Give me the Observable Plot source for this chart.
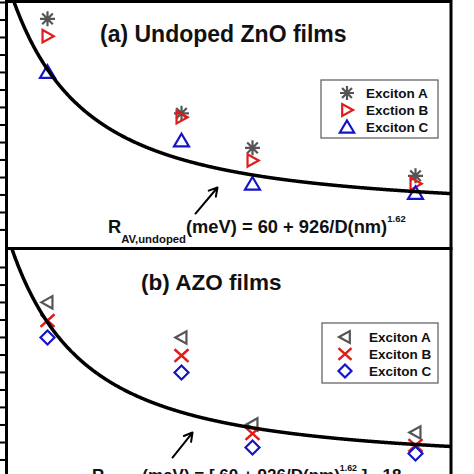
<!DOCTYPE html>
<html><head><meta charset="utf-8">
<script src="https://cdn.jsdelivr.net/npm/d3@7"></script>
<script src="https://cdn.jsdelivr.net/npm/@observablehq/plot@0.6"></script>
<style>
html,body{margin:0;padding:0;background:#fff;overflow:hidden}
#wrap{position:relative;width:474px;height:474px;overflow:hidden;font-family:"Liberation Sans",Arial,sans-serif}
#wrap svg{position:absolute;left:0}
</style></head>
<body><div id="wrap"></div>
<script>
// ---- data (grain size D in nm, energies in meV) ----
const grainD = [15.7, 29.1, 36.2, 52.5];
const undopedA = [74.5, 67.4, 64.8, 62.7];
const undopedB = [73.2, 67.1, 63.85, 62.1];
const undopedC = [70.5, 65.35, 62.1, 61.4];
const azoA = [54.2, 51.56, 45.02, 44.41];
const azoB = [52.83, 50.2, 44.33, 43.44];
const azoC = [51.56, 48.92, 43.29, 42.83];
const legendUndoped = ["Exciton A", "Exction B", "Exciton C"];
const legendAZO = ["Exciton A", "Exciton B", "Exciton C"];
const titleA = "(a) Undoped ZnO films";
const titleB = "(b) AZO films";
// fit model parameters printed on the chart
const fitUndoped = {base: 60, coef: 926, expo: 1.62, shift: 0};
const fitAZO = {base: 60, coef: 926, expo: 1.62, shift: -18};
const xDomain = [11.6, 56.05];
const yDomainA = [57.233, 75.805];
const yDomainB = [39.677, 58.248];
const yTicksA = [75.73, 74.41, 73.10, 71.78, 70.47, 69.15, 67.84, 66.52, 65.20, 63.89, 62.57, 61.26, 59.94, 58.63];
const yTicksB = [56.82, 55.50, 54.19, 52.87, 51.56, 50.24, 48.93, 47.61, 46.30, 44.98, 43.66, 42.35, 41.03];
const arrowUndoped = [{x1: 30.5, y1: 59.86, x2: 32.7, y2: 61.82}];
const arrowAZO = [{x1: 28.2, y1: 42.53, x2: 30.2, y2: 44.41}];

const GRAY = "#555555", RED = "#e31a1a", BLUE = "#1414c8";

// ---- custom symbols ----
const sym = fn => ({draw(c, size) { fn(c, Math.sqrt(size / Math.PI)); }});
const symAsterisk = sym((c, r) => { for (const a of [0, 45, 90, 135]) { const t = a * Math.PI / 180, dx = r * Math.cos(t), dy = r * Math.sin(t); c.moveTo(-dx, -dy); c.lineTo(dx, dy); } });
const symTriRight = sym((c, r) => { c.moveTo(r, 0); c.lineTo(-0.8 * r, -r); c.lineTo(-0.8 * r, r); c.closePath(); });
const symTriLeft = sym((c, r) => { c.moveTo(-r, 0); c.lineTo(0.8 * r, -r); c.lineTo(0.8 * r, r); c.closePath(); });
const symTriUp = sym((c, r) => { c.moveTo(0, -r); c.lineTo(1.1 * r, 0.85 * r); c.lineTo(-1.1 * r, 0.85 * r); c.closePath(); });
const symTimes = sym((c, r) => { c.moveTo(-r, -0.9 * r); c.lineTo(r, 0.9 * r); c.moveTo(-r, 0.9 * r); c.lineTo(r, -0.9 * r); });
const symDiamond = sym((c, r) => { c.moveTo(0, -r); c.lineTo(r, 0); c.lineTo(0, r); c.lineTo(-r, 0); c.closePath(); });

const rows = vals => grainD.map((d, i) => ({D: d, R: vals[i]}));
const curve = f => d3.range(xDomain[0], xDomain[1] + 0.05, 0.05).map(d => ({D: d, R: f.base + f.coef / Math.pow(d, f.expo) + f.shift}));

function panel({yDomain, ticks, series, fit, arrow, height, mt, mb}) {
  return Plot.plot({
    width: 474, height,
    marginLeft: 6, marginRight: 23.5, marginTop: mt, marginBottom: mb,
    x: {domain: xDomain, axis: null},
    y: {domain: yDomain, axis: null},
    style: {background: "transparent", overflow: "visible"},
    marks: [
      ...series.map(s => Plot.dot(rows(s.vals), {x: "D", y: "R", symbol: s.symbol, r: s.r, fill: "none", stroke: s.color, strokeWidth: s.sw})),
      Plot.line(curve(fit), {x: "D", y: "R", stroke: "black", strokeWidth: 3.5, clip: true}),
      Plot.arrow(arrow, {x1: "x1", y1: "y1", x2: "x2", y2: "y2", stroke: "black", strokeWidth: 2, headLength: 7}),
      Plot.axisY(ticks, {anchor: "left", tickSize: 6, tickFormat: () => "", strokeWidth: 2, label: null}),
      Plot.frame({stroke: "black", strokeWidth: 3})
    ]
  });
}

const wrap = document.getElementById("wrap");
const top1 = panel({
  yDomain: yDomainA, ticks: yTicksA, fit: fitUndoped, arrow: arrowUndoped, height: 249, mt: 1, mb: 1,
  series: [
    {vals: undopedA, symbol: symAsterisk, r: 7.5, color: GRAY, sw: 2.2},
    {vals: undopedB, symbol: symTriRight, r: 6.2, color: RED, sw: 2.2},
    {vals: undopedC, symbol: symTriUp, r: 6.8, color: BLUE, sw: 2.2}
  ]
});
top1.style.top = "0px";
wrap.appendChild(top1);
const bot = panel({
  yDomain: yDomainB, ticks: yTicksB, fit: fitAZO, arrow: arrowAZO, height: 251, mt: 2, mb: 2,
  series: [
    {vals: azoA, symbol: symTriLeft, r: 6.2, color: GRAY, sw: 2.2},
    {vals: azoB, symbol: symTimes, r: 7, color: RED, sw: 2.5},
    {vals: azoC, symbol: symDiamond, r: 7, color: BLUE, sw: 2.2}
  ]
});
bot.style.top = "246px";
wrap.appendChild(bot);

// ---- annotations overlay ----
const ov = d3.select(wrap).append("svg").attr("width", 474).attr("height", 474).style("top", "0px")
  .attr("font-family", '"Liberation Sans", Arial, sans-serif').attr("font-weight", "bold").attr("fill", "#111")
  .attr("xml:space", "preserve").style("white-space", "pre");

ov.append("text").attr("x", 100).attr("y", 42).attr("font-size", 23).text(titleA);
ov.append("text").attr("x", 141).attr("y", 290).attr("font-size", 22.5).text(titleB);

function formula(x, y, fs, sub, body, sup, tail) {
  const t = ov.append("text").attr("x", x).attr("y", y).attr("font-size", fs);
  t.append("tspan").text("R");
  t.append("tspan").attr("font-size", fs * 0.62).attr("dy", fs * 0.55).text(sub);
  t.append("tspan").attr("dy", -fs * 0.55).text(body);
  t.append("tspan").attr("font-size", fs * 0.52).attr("dy", -fs * 0.58).text(sup);
  if (tail) t.append("tspan").attr("dy", fs * 0.58).text(tail);
}
formula(108, 233, 18.3, "AV,undoped", "(meV) = 60  + 926/D(nm)", "1.62", null);
formula(92, 481, 17, "AV,AZO", "(meV) = [ 60 + 926/D(nm)", "1.62", " ] - 18");

function legend(bx, by, bw, bh, sx, tx, ys, syms, labels) {
  ov.append("rect").attr("x", bx).attr("y", by).attr("width", bw).attr("height", bh)
    .attr("fill", "white").attr("stroke", "#666").attr("stroke-width", 1.3);
  syms.forEach((s, i) => {
    const p = d3.path(); s.symbol.draw(p, Math.PI * s.r * s.r);
    ov.append("path").attr("d", p.toString()).attr("transform", `translate(${sx},${ys[i]})`)
      .attr("fill", "none").attr("stroke", s.color).attr("stroke-width", s.sw);
    ov.append("text").attr("x", tx).attr("y", ys[i] + 5).attr("font-size", 13.5).text(labels[i]);
  });
}
legend(321, 80, 117, 58, 347, 366, [93, 110, 127], [
  {symbol: symAsterisk, r: 7, color: GRAY, sw: 2.2},
  {symbol: symTriRight, r: 6, color: RED, sw: 2.2},
  {symbol: symTriUp, r: 6.5, color: BLUE, sw: 2.2}
], legendUndoped);
legend(322, 323, 116, 60, 345, 369, [337, 354, 371], [
  {symbol: symTriLeft, r: 6, color: GRAY, sw: 2.2},
  {symbol: symTimes, r: 6.5, color: RED, sw: 2.5},
  {symbol: symDiamond, r: 6.5, color: BLUE, sw: 2.2}
], legendAZO);
</script></body></html>
